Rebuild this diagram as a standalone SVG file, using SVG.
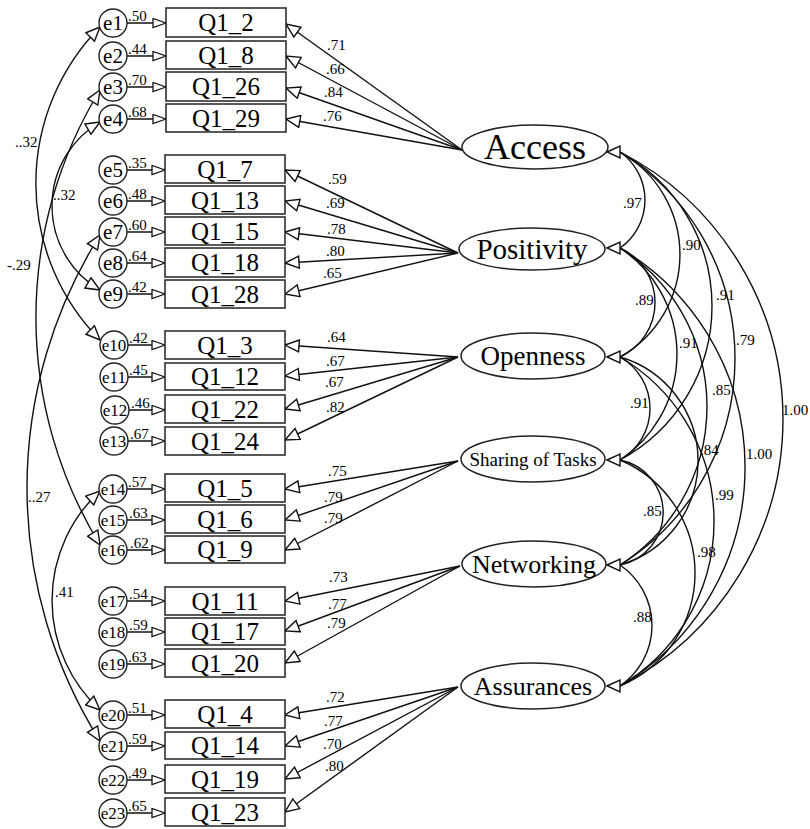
<svg xmlns="http://www.w3.org/2000/svg" width="810" height="829" viewBox="0 0 810 829" font-family="'Liberation Serif', 'DejaVu Serif', serif">
<style>
text{font-family:'Liberation Serif','DejaVu Serif',serif;fill:#000}
.box{fill:#fff;stroke:#222;stroke-width:1.5}
.err{fill:#fff;stroke:#222;stroke-width:1.4}
.lat{fill:#fff;stroke:#222;stroke-width:1.5}
.ln{fill:none;stroke:#111;stroke-width:1.4}
.ld{fill:none;stroke:#111;stroke-width:1.4;marker-end:url(#big)}
.ea{fill:none;stroke:#111;stroke-width:1.3;marker-end:url(#sm)}
.cv{fill:none;stroke:#111;stroke-width:1.4;marker-start:url(#bigs);marker-end:url(#big)}
.tri{fill:#fff;stroke:#111;stroke-width:1.4}
.bt{font-size:25px;text-anchor:middle}
.et{font-size:21px;text-anchor:middle}
.es{font-size:17px;text-anchor:middle}
.n{font-size:15px}
</style>
<defs>
<marker id="big" markerUnits="userSpaceOnUse" viewBox="-1 -1 16 14" refX="14" refY="6" markerWidth="16" markerHeight="14" orient="auto"><path d="M0,0 L14,6 L0,12 z" fill="#fff" stroke="#111" stroke-width="1.4"/></marker>
<marker id="bigs" markerUnits="userSpaceOnUse" viewBox="-1 -1 16 14" refX="14" refY="6" markerWidth="16" markerHeight="14" orient="auto-start-reverse"><path d="M0,0 L14,6 L0,12 z" fill="#fff" stroke="#111" stroke-width="1.4"/></marker>
<marker id="sm" markerUnits="userSpaceOnUse" viewBox="-1 -1 15 11" refX="13" refY="4.5" markerWidth="15" markerHeight="11" orient="auto"><path d="M0,0 L13,4.5 L0,9 z" fill="#fff" stroke="#111" stroke-width="1.3"/></marker>
</defs>

<g id="connectors">
<path class="ea" d="M127,23 H166"/><path class="ea" d="M127,56 H166"/><path class="ea" d="M127,87 H166"/><path class="ea" d="M127,119 H166"/>
<path class="ea" d="M127,170 H165"/><path class="ea" d="M127,201 H165"/><path class="ea" d="M127,232 H165"/><path class="ea" d="M127,263 H165"/><path class="ea" d="M127,294 H165"/>
<path class="ea" d="M128,345 H165"/><path class="ea" d="M128,377 H165"/><path class="ea" d="M128,410 H165"/><path class="ea" d="M128,441 H165"/>
<path class="ea" d="M127,489 H165"/><path class="ea" d="M127,520 H165"/><path class="ea" d="M127,550 H165"/>
<path class="ea" d="M127,601 H165"/><path class="ea" d="M127,632 H165"/><path class="ea" d="M127,664 H165"/>
<path class="ea" d="M127,715 H165"/><path class="ea" d="M127,746 H165"/><path class="ea" d="M127,780 H165"/><path class="ea" d="M127,813 H165"/>
<path class="ld" d="M462,150 L286,24"/><path class="ld" d="M462,150 L286,56"/><path class="ld" d="M462,150 L286,88"/><path class="ld" d="M462,150 L286,119"/>
<path class="ld" d="M458,253 L285,170"/><path class="ld" d="M458,253 L285,201"/><path class="ld" d="M458,253 L285,232"/><path class="ld" d="M458,253 L285,263"/><path class="ld" d="M458,253 L285,294"/>
<path class="ld" d="M458,357 L285,345"/><path class="ld" d="M458,357 L285,376"/><path class="ld" d="M458,357 L285,409"/><path class="ld" d="M458,357 L285,440"/>
<path class="ld" d="M458,461 L285,489"/><path class="ld" d="M458,461 L285,520"/><path class="ld" d="M458,461 L285,550"/>
<path class="ld" d="M460,566 L285,601"/><path class="ld" d="M460,566 L285,631"/><path class="ld" d="M460,566 L285,663"/>
<path class="ld" d="M458,687 L285,715"/><path class="ld" d="M458,687 L285,746"/><path class="ld" d="M458,687 L285,779"/><path class="ld" d="M458,687 L285,812"/>
<path class="cv" d="M100,27 A223,223 0 0 0 100,340"/>
<path class="cv" d="M100,122 A97.5,97.5 0 0 0 100,290"/>
<path class="cv" d="M100,90 A436,436 0 0 0 100,545"/>
<path class="cv" d="M100,235 A475,475 0 0 0 100,741"/>
<path class="cv" d="M100,491 A149,149 0 0 0 100,710"/>
<path class="ln" d="M620,152 A58.6,58.6 0 0 1 620,248"/>
<path class="ln" d="M620,152 A117.6,117.6 0 0 1 620,357"/>
<path class="ln" d="M620,152 A174.9,174.9 0 0 1 620,460"/>
<path class="ln" d="M620,152 A242.9,242.9 0 0 1 620,565"/>
<path class="ln" d="M620,152 A300.2,300.2 0 0 1 620,686"/>
<path class="ln" d="M620,248 A59.9,59.9 0 0 1 620,357"/>
<path class="ln" d="M620,248 A127.1,127.1 0 0 1 620,460"/>
<path class="ln" d="M620,248 A187.9,187.9 0 0 1 620,565"/>
<path class="ln" d="M620,248 A254.3,254.3 0 0 1 620,686"/>
<path class="ln" d="M620,357 A59.2,59.2 0 0 1 620,460"/>
<path class="ln" d="M620,357 A108.3,108.3 0 0 1 620,565"/>
<path class="ln" d="M620,357 A190.9,190.9 0 0 1 620,686"/>
<path class="ln" d="M620,460 A53.5,53.5 0 0 1 620,565"/>
<path class="ln" d="M620,460 A122.6,122.6 0 0 1 620,686"/>
<path class="ln" d="M620,565 A73.2,73.2 0 0 1 620,686"/>
<polygon class="tri" points="607,152 620,146 620,158"/>
<polygon class="tri" points="607,248 620,242 620,254"/>
<polygon class="tri" points="607,357 620,351 620,363"/>
<polygon class="tri" points="607,460 620,454 620,466"/>
<polygon class="tri" points="607,565 620,559 620,571"/>
<polygon class="tri" points="607,686 620,680 620,692"/>
<g class="n">
<text x="128" y="21">.50</text><text x="128" y="54">.44</text><text x="128" y="85">.70</text><text x="128" y="117">.68</text>
<text x="128" y="168">.35</text><text x="128" y="199">.48</text><text x="128" y="230">.60</text><text x="128" y="261">.64</text><text x="128" y="292">.42</text>
<text x="129" y="343">.42</text><text x="129" y="375">.45</text><text x="131" y="408">.46</text><text x="130" y="439">.67</text>
<text x="128" y="487">.57</text><text x="129" y="518">.63</text><text x="130" y="548">.62</text>
<text x="129" y="599">.54</text><text x="129" y="630">.59</text><text x="128" y="662">.63</text>
<text x="128" y="713">.51</text><text x="128" y="744">.59</text><text x="128" y="778">.49</text><text x="128" y="811">.65</text>
<text x="327" y="50">.71</text><text x="326" y="74">.66</text><text x="324" y="97">.84</text><text x="323" y="121">.76</text>
<text x="328" y="184">.59</text><text x="326" y="208">.69</text><text x="327" y="234">.78</text><text x="326" y="256">.80</text><text x="323" y="278">.65</text>
<text x="327" y="342">.64</text><text x="326" y="366">.67</text><text x="325" y="387">.67</text><text x="326" y="412">.82</text>
<text x="328" y="476">.75</text><text x="324" y="502">.79</text><text x="324" y="523">.79</text>
<text x="329" y="582">.73</text><text x="328" y="609">.77</text><text x="327" y="628">.79</text>
<text x="326" y="702">.72</text><text x="324" y="726">.77</text><text x="323" y="749">.70</text><text x="325" y="771">.80</text>
<text x="15" y="147">..32</text>
<text x="53" y="200">..32</text>
<text x="7" y="270">-.29</text>
<text x="28" y="502">..27</text>
<text x="55" y="597">.41</text>
<text x="623" y="208">.97</text>
<text x="682" y="250">.90</text>
<text x="716" y="300">.91</text>
<text x="736" y="345">.79</text>
<text x="782" y="415">1.00</text>
<text x="635" y="305">.89</text>
<text x="679" y="348">.91</text>
<text x="712" y="395">.85</text>
<text x="630" y="408">.91</text>
<text x="700" y="455">.84</text>
<text x="746" y="459">1.00</text>
<text x="715" y="500">.99</text>
<text x="643" y="516">.85</text>
<text x="697" y="557">.98</text>
<text x="633" y="622">.88</text>
</g>
</g>

<g id="e1"><circle class="err" cx="113" cy="23" r="14"/><text class="et" x="113" y="30">e1</text></g>
<g id="e2"><circle class="err" cx="113" cy="56" r="14"/><text class="et" x="113" y="63">e2</text></g>
<g id="e3"><circle class="err" cx="113" cy="87" r="14"/><text class="et" x="113" y="94">e3</text></g>
<g id="e4"><circle class="err" cx="113" cy="119" r="14"/><text class="et" x="113" y="126">e4</text></g>
<g id="e5"><circle class="err" cx="113" cy="170" r="14"/><text class="et" x="113" y="177">e5</text></g>
<g id="e6"><circle class="err" cx="113" cy="201" r="14"/><text class="et" x="113" y="208">e6</text></g>
<g id="e7"><circle class="err" cx="113" cy="232" r="14"/><text class="et" x="113" y="239">e7</text></g>
<g id="e8"><circle class="err" cx="113" cy="263" r="14"/><text class="et" x="113" y="270">e8</text></g>
<g id="e9"><circle class="err" cx="113" cy="294" r="14"/><text class="et" x="113" y="301">e9</text></g>
<g id="e10"><circle class="err" cx="114" cy="345" r="14"/><text class="es" x="114" y="351">e10</text></g>
<g id="e11"><circle class="err" cx="114" cy="377" r="14"/><text class="es" x="114" y="383">e11</text></g>
<g id="e12"><circle class="err" cx="115" cy="410" r="14"/><text class="es" x="115" y="416">e12</text></g>
<g id="e13"><circle class="err" cx="114" cy="441" r="14"/><text class="es" x="114" y="447">e13</text></g>
<g id="e14"><circle class="err" cx="113" cy="489" r="14"/><text class="es" x="113" y="495">e14</text></g>
<g id="e15"><circle class="err" cx="113" cy="520" r="14"/><text class="es" x="113" y="526">e15</text></g>
<g id="e16"><circle class="err" cx="113" cy="550" r="14"/><text class="es" x="113" y="556">e16</text></g>
<g id="e17"><circle class="err" cx="113" cy="601" r="14"/><text class="es" x="113" y="607">e17</text></g>
<g id="e18"><circle class="err" cx="113" cy="632" r="14"/><text class="es" x="113" y="638">e18</text></g>
<g id="e19"><circle class="err" cx="113" cy="664" r="14"/><text class="es" x="113" y="670">e19</text></g>
<g id="e20"><circle class="err" cx="113" cy="715" r="14"/><text class="es" x="113" y="721">e20</text></g>
<g id="e21"><circle class="err" cx="113" cy="746" r="14"/><text class="es" x="113" y="752">e21</text></g>
<g id="e22"><circle class="err" cx="113" cy="780" r="14"/><text class="es" x="113" y="786">e22</text></g>
<g id="e23"><circle class="err" cx="113" cy="813" r="14"/><text class="es" x="113" y="819">e23</text></g>

<g id="Q1_2"><rect class="box" x="166" y="8" width="120" height="29"/><text class="bt" x="226" y="31">Q1_2</text></g>
<g id="Q1_8"><rect class="box" x="166" y="41" width="120" height="28"/><text class="bt" x="226" y="64">Q1_8</text></g>
<g id="Q1_26"><rect class="box" x="166" y="72" width="120" height="29"/><text class="bt" x="226" y="95">Q1_26</text></g>
<g id="Q1_29"><rect class="box" x="166" y="104" width="120" height="28"/><text class="bt" x="226" y="127">Q1_29</text></g>
<g id="Q1_7"><rect class="box" x="165" y="155" width="120" height="28"/><text class="bt" x="225" y="178">Q1_7</text></g>
<g id="Q1_13"><rect class="box" x="165" y="186" width="120" height="28"/><text class="bt" x="225" y="209">Q1_13</text></g>
<g id="Q1_15"><rect class="box" x="165" y="217" width="120" height="28"/><text class="bt" x="225" y="240">Q1_15</text></g>
<g id="Q1_18"><rect class="box" x="165" y="248" width="120" height="29"/><text class="bt" x="225" y="271">Q1_18</text></g>
<g id="Q1_28"><rect class="box" x="165" y="280" width="120" height="28"/><text class="bt" x="225" y="303">Q1_28</text></g>
<g id="Q1_3"><rect class="box" x="165" y="331" width="120" height="28"/><text class="bt" x="225" y="354">Q1_3</text></g>
<g id="Q1_12"><rect class="box" x="165" y="363" width="120" height="27"/><text class="bt" x="225" y="385">Q1_12</text></g>
<g id="Q1_22"><rect class="box" x="165" y="395" width="120" height="28"/><text class="bt" x="225" y="418">Q1_22</text></g>
<g id="Q1_24"><rect class="box" x="165" y="427" width="120" height="28"/><text class="bt" x="225" y="450">Q1_24</text></g>
<g id="Q1_5"><rect class="box" x="165" y="474" width="120" height="28"/><text class="bt" x="225" y="497">Q1_5</text></g>
<g id="Q1_6"><rect class="box" x="165" y="505" width="120" height="28"/><text class="bt" x="225" y="528">Q1_6</text></g>
<g id="Q1_9"><rect class="box" x="165" y="536" width="120" height="27"/><text class="bt" x="225" y="558">Q1_9</text></g>
<g id="Q1_11"><rect class="box" x="165" y="587" width="120" height="28"/><text class="bt" x="225" y="610">Q1_11</text></g>
<g id="Q1_17"><rect class="box" x="165" y="618" width="120" height="27"/><text class="bt" x="225" y="640">Q1_17</text></g>
<g id="Q1_20"><rect class="box" x="165" y="649" width="120" height="28"/><text class="bt" x="225" y="672">Q1_20</text></g>
<g id="Q1_4"><rect class="box" x="165" y="700" width="120" height="28"/><text class="bt" x="225" y="723">Q1_4</text></g>
<g id="Q1_14"><rect class="box" x="165" y="732" width="120" height="27"/><text class="bt" x="225" y="754">Q1_14</text></g>
<g id="Q1_19"><rect class="box" x="165" y="765" width="120" height="28"/><text class="bt" x="225" y="788">Q1_19</text></g>
<g id="Q1_23"><rect class="box" x="165" y="798" width="120" height="28"/><text class="bt" x="225" y="821">Q1_23</text></g>

<g id="Access"><ellipse class="lat" cx="535" cy="147" rx="73" ry="22"/><text x="535" y="159" font-size="36" text-anchor="middle">Access</text></g>
<g id="Positivity"><ellipse class="lat" cx="532" cy="249" rx="73" ry="21"/><text x="532" y="259" font-size="29" text-anchor="middle">Positivity</text></g>
<g id="Openness"><ellipse class="lat" cx="533" cy="356" rx="72" ry="23"/><text x="533" y="365" font-size="27" text-anchor="middle">Openness</text></g>
<g id="Sharing"><ellipse class="lat" cx="533" cy="459" rx="72" ry="23"/><text x="533" y="466" font-size="19" text-anchor="middle">Sharing of Tasks</text></g>
<g id="Networking"><ellipse class="lat" cx="534" cy="564" rx="72" ry="23"/><text x="534" y="573" font-size="26" text-anchor="middle">Networking</text></g>
<g id="Assurances"><ellipse class="lat" cx="533" cy="686" rx="72" ry="23"/><text x="533" y="695" font-size="26" text-anchor="middle">Assurances</text></g>
</svg>
